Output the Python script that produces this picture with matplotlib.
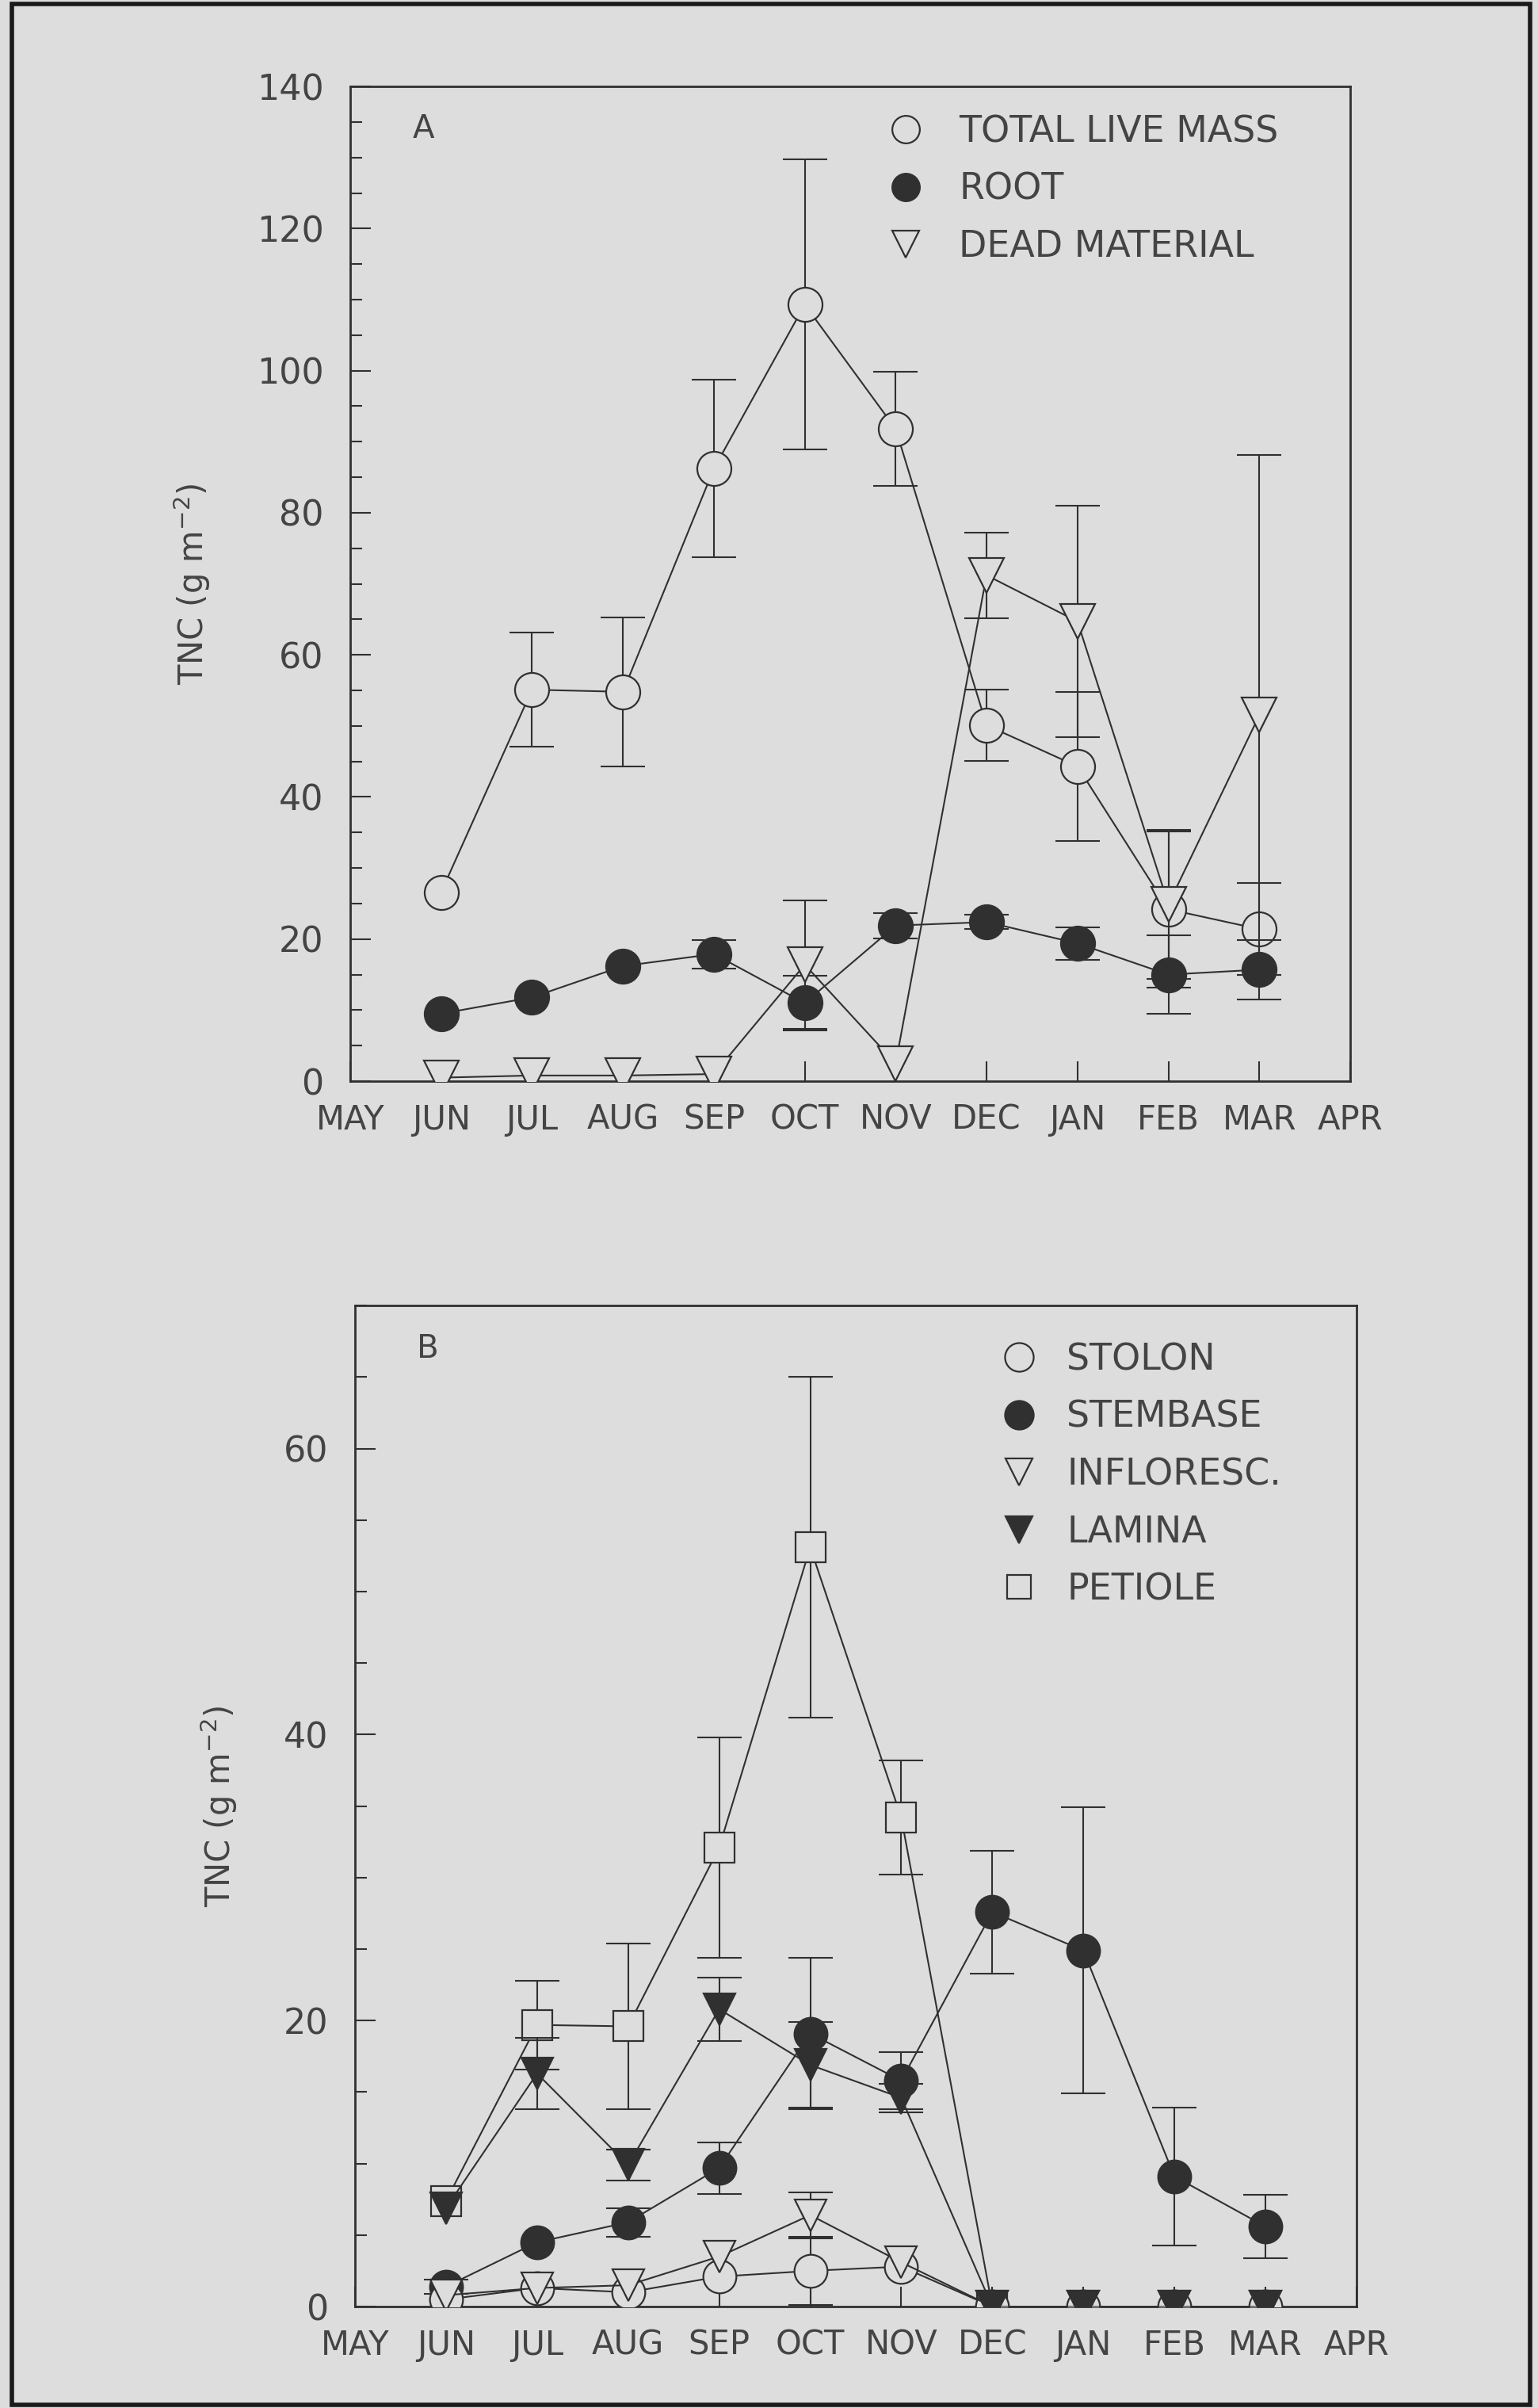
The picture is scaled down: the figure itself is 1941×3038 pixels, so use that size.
import numpy as np
import matplotlib.pyplot as plt
from matplotlib.lines import Line2D
from matplotlib.patches import Rectangle
from matplotlib.ticker import MultipleLocator

plt.rcParams['font.family'] = ['DejaVu Sans']

# month axis
months = ['MAY', 'JUN', 'JUL', 'AUG', 'SEP', 'OCT', 'NOV', 'DEC', 'JAN', 'FEB', 'MAR', 'APR']
sample_months = ['JUN', 'JUL', 'AUG', 'SEP', 'OCT', 'NOV', 'DEC', 'JAN', 'FEB', 'MAR']

# panel A
live_mass = [26.6, 55.1, 54.8, 86.2, 109.3, 91.8, 50.1, 44.3, 24.2, 21.4]
live_mass_err = [0, 8.0, 10.5, 12.5, 20.4, 8.0, 5.0, 10.5, 11.0, 6.5]
root = [9.5, 11.8, 16.2, 17.9, 11.0, 21.9, 22.4, 19.4, 15.0, 15.7]
root_err = [0, 0, 0, 2.0, 3.8, 1.8, 1.0, 2.3, 5.5, 4.2]
dead = [0.5, 0.8, 0.8, 1.0, 16.4, 2.5, 71.2, 64.7, 24.9, 51.5]
dead_err = [0, 0, 0, 0, 9.0, 0, 6.0, 16.3, 10.5, 36.6]

# panel B
stolon = [0.5, 1.3, 1.0, 2.1, 2.5, 2.8, 0, 0, 0, 0]
stolon_err = [0, 0, 0, 0, 2.4, 0, 0, 0, 0, 0]
stembase = [1.4, 4.5, 5.9, 9.7, 19.1, 15.8, 27.6, 24.9, 9.1, 5.6]
stembase_err = [0.5, 0, 1.0, 1.8, 5.3, 2.0, 4.3, 10.0, 4.8, 2.2]
infloresc = [0.8, 1.3, 1.5, 3.5, 6.4, 3.1, 0, 0, 0, 0]
infloresc_err = [0, 0, 0, 0, 1.6, 0, 0, 0, 0, 0]
lamina = [6.9, 16.3, 9.9, 20.8, 16.9, 14.6, 0, 0, 0, 0]
lamina_err = [0, 2.5, 1.1, 2.2, 3.0, 1.0, 0, 0, 0, 0]
petiole = [7.4, 19.7, 19.6, 32.1, 53.1, 34.2, 0, np.nan, np.nan, np.nan]
petiole_err = [0, 3.1, 5.8, 7.7, 11.9, 4.0, 0, 0, 0, 0]

bg = '#dcdddc'
ink = '#303030'
txt = '#444444'
fs = 32

x = np.array([months.index(m) for m in sample_months])


def draw(ax, y, err, marker, filled, ms, z):
    y = np.array(y, dtype=float)
    err = np.array(err, dtype=float)
    keep = err > 0
    if keep.any():
        ax.errorbar(x[keep], y[keep], yerr=err[keep], fmt='none', ecolor=ink,
                    elinewidth=1.5, capsize=20, capthick=1.5, zorder=z)
    ax.plot(x, y, color=ink, lw=1.5, zorder=z + 0.1)
    ax.plot(x, y, ls='none', marker=marker, ms=ms, mew=1.6, mec=ink,
            mfc=ink if filled else bg, zorder=z + 0.2)


def style(ax, ymax, letter):
    ax.set_facecolor(bg)
    ax.set_xlim(0, 11)
    ax.set_ylim(0, ymax)
    ax.set_xticks(range(12))
    ax.set_xticklabels(months)
    ax.yaxis.set_major_locator(MultipleLocator(20))
    ax.yaxis.set_minor_locator(MultipleLocator(5))
    ax.tick_params(axis='y', which='major', direction='in', length=19, width=1.5,
                   pad=24, labelsize=fs, colors=ink, labelcolor=txt)
    ax.tick_params(axis='y', which='minor', direction='in', length=11, width=1.5, colors=ink)
    ax.tick_params(axis='x', direction='in', length=18, width=1.5, pad=20,
                   labelsize=fs - 2, colors=ink, labelcolor=txt)
    for s in ax.spines.values():
        s.set_color(ink)
        s.set_linewidth(2)
    ax.set_ylabel('TNC (g m$^{-2}$)', fontsize=fs - 2, color=txt, labelpad=40)
    ax.text(0.073, 0.957, letter, transform=ax.transAxes, fontsize=fs - 3,
            color=txt, ha='center', va='center')


fig = plt.figure(figsize=(19.41, 30.38), dpi=100, facecolor=bg)
fig.patches.append(Rectangle((15 / 1941, 4 / 3038), 1 - 25 / 1941, 1 - 9 / 3038,
                             transform=fig.transFigure, fill=False,
                             edgecolor='#1a1a1a', lw=4))

# panel A
ax1 = fig.add_axes([0.2277, 0.551, 0.6502, 0.4131])
draw(ax1, live_mass, live_mass_err, 'o', False, 31, 3)
draw(ax1, root, root_err, 'o', True, 31, 4)
draw(ax1, dead, dead_err, 'v', False, 31, 5)
style(ax1, 140, 'A')
handles_a = [Line2D([], [], ls='none', marker='o', ms=25, mew=1.6, mec=ink, mfc=bg),
             Line2D([], [], ls='none', marker='o', ms=25, mew=1.6, mec=ink, mfc=ink),
             Line2D([], [], ls='none', marker='v', ms=25, mew=1.6, mec=ink, mfc=bg)]
ax1.legend(handles_a, ['TOTAL LIVE MASS', 'ROOT', 'DEAD MATERIAL'],
           loc='upper left', bbox_to_anchor=(0.537, 0.972), frameon=False,
           fontsize=fs + 1, handlelength=1.0, handletextpad=0.98, labelspacing=0.6,
           borderpad=0, borderaxespad=0, labelcolor=txt)

# panel B
ax2 = fig.add_axes([0.2308, 0.0421, 0.6512, 0.4157])
draw(ax2, petiole, petiole_err, 's', False, 27, 3)
draw(ax2, stembase, stembase_err, 'o', True, 30, 4)
draw(ax2, stolon, stolon_err, 'o', False, 30, 5)
draw(ax2, infloresc, infloresc_err, 'v', False, 29, 6)
draw(ax2, lamina, lamina_err, 'v', True, 29, 7)
style(ax2, 70, 'B')
handles_b = [Line2D([], [], ls='none', marker='o', ms=26, mew=1.6, mec=ink, mfc=bg),
             Line2D([], [], ls='none', marker='o', ms=26, mew=1.6, mec=ink, mfc=ink),
             Line2D([], [], ls='none', marker='v', ms=24, mew=1.6, mec=ink, mfc=bg),
             Line2D([], [], ls='none', marker='v', ms=24, mew=1.6, mec=ink, mfc=ink),
             Line2D([], [], ls='none', marker='s', ms=22, mew=1.6, mec=ink, mfc=bg)]
ax2.legend(handles_b, ['STOLON', 'STEMBASE', 'INFLORESC.', 'LAMINA', 'PETIOLE'],
           loc='upper left', bbox_to_anchor=(0.645, 0.9635), frameon=False,
           fontsize=fs + 1, handlelength=1.0, handletextpad=0.81, labelspacing=0.6,
           borderpad=0, borderaxespad=0, labelcolor=txt)

fig.savefig('out.png', dpi=100, facecolor=bg)
